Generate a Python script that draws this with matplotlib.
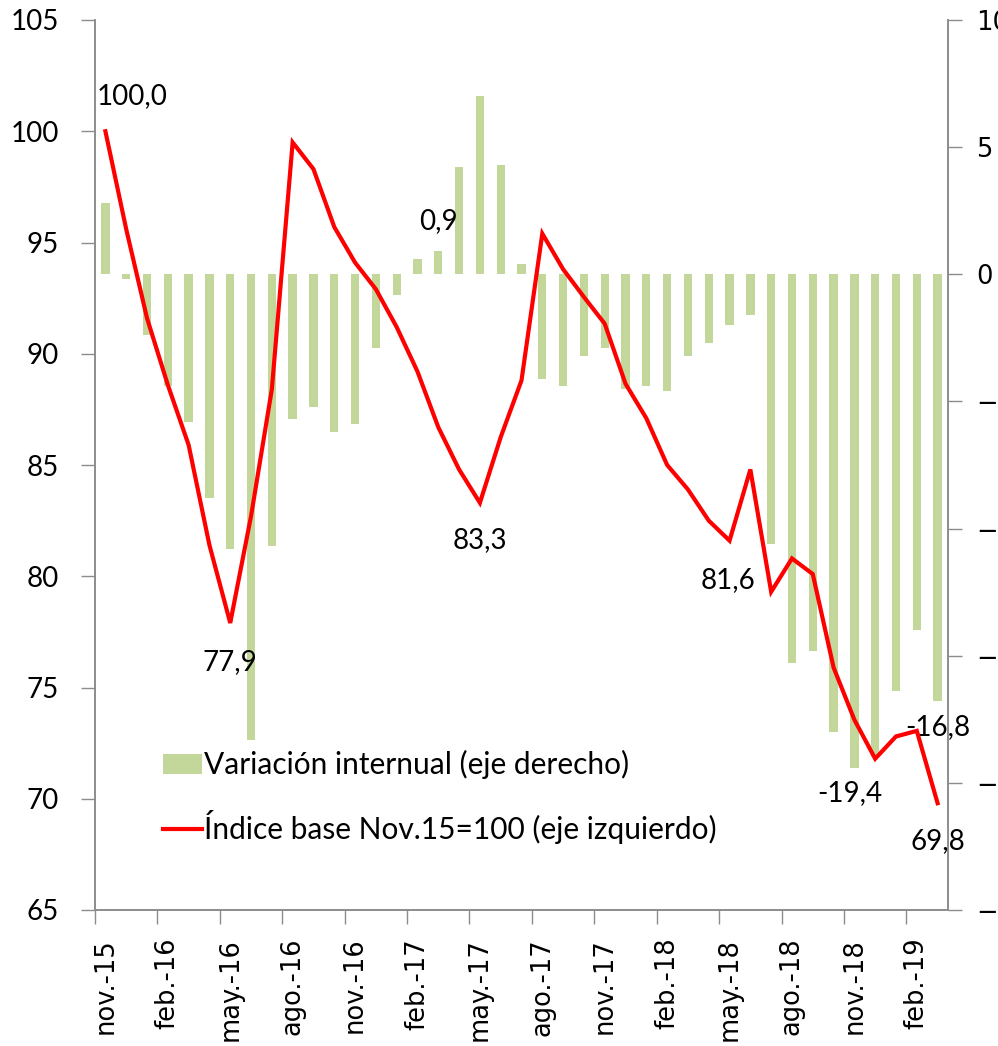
import matplotlib
matplotlib.use("Agg")
import matplotlib.pyplot as plt
from matplotlib.ticker import FixedLocator, NullFormatter

months = ["nov.-15", "dic.-15", "ene.-16", "feb.-16", "mar.-16", "abr.-16", "may.-16",
          "jun.-16", "jul.-16", "ago.-16", "sep.-16", "oct.-16", "nov.-16", "dic.-16",
          "ene.-17", "feb.-17", "mar.-17", "abr.-17", "may.-17", "jun.-17", "jul.-17",
          "ago.-17", "sep.-17", "oct.-17", "nov.-17", "dic.-17", "ene.-18", "feb.-18",
          "mar.-18", "abr.-18", "may.-18", "jun.-18", "jul.-18", "ago.-18", "sep.-18",
          "oct.-18", "nov.-18", "dic.-18", "ene.-19", "feb.-19", "mar.-19"]

variacion = [2.8, -0.2, -2.4, -4.4, -5.8, -8.8, -10.8, -18.3, -10.7, -5.7, -5.2, -6.2,
             -5.9, -2.9, -0.8, 0.6, 0.9, 4.2, 7.0, 4.3, 0.4, -4.1, -4.4, -3.2, -2.9,
             -4.5, -4.4, -4.6, -3.2, -2.7, -2.0, -1.6, -10.6, -15.3, -14.8, -18.0,
             -19.4, -19.0, -16.4, -14.0, -16.8]

indice = [100.0, 95.6, 91.6, 88.6, 85.9, 81.4, 77.9, 82.7, 88.4, 99.5, 98.3, 95.7,
          94.1, 92.9, 91.2, 89.2, 86.7, 84.8, 83.3, 86.25, 88.8, 95.4, 93.8, 92.55,
          91.35, 88.65, 87.1, 85.0, 83.9, 82.5, 81.6, 84.8, 79.3, 80.8, 80.1, 75.9,
          73.55, 71.8, 72.8, 73.05, 69.8]

left_ticks = [65, 70, 75, 80, 85, 90, 95, 100, 105]
right_ticks = [-25, -20, -15, -10, -5, 0, 5, 10]

# labelled points: (index, offset_x px, offset_y px)
line_labels = [(0, 27, 35), (6, 0, -39), (18, 0, -37), (30, -2, -39), (40, 0, -38)]
bar_labels = [(16, 0, 30), (36, -5, -25), (40, 0, -26)]

BAR_COLOR = "#C4D79B"
AXIS_COLOR = "#8C8C8C"
CAL = ["Lato", "DejaVu Sans"]
VER = ["DejaVu Sans"]

fig = plt.figure(figsize=(9.98, 10.46), dpi=100)
ax = fig.add_axes([95 / 998, 1 - 910 / 1046, (948 - 95) / 998, (910 - 20) / 1046])
ax2 = ax.twinx()
ax.set_zorder(ax2.get_zorder() + 1)
ax.patch.set_visible(False)

x = list(range(len(months)))
bars = ax2.bar(x, variacion, width=0.4, color=BAR_COLOR, zorder=2,
               label="Variación internual (eje derecho)")
line, = ax.plot(x, indice, color="#FF0000", lw=3.0, solid_joinstyle="miter",
                label="Índice base Nov.15=100 (eje izquierdo)", zorder=3)

ax.set_xlim(-0.5, len(months) - 0.5)
ax.set_ylim(65, 105)
ax2.set_ylim(-25, 10)
ax.set_yticks(left_ticks)
ax2.set_yticks(right_ticks)

# x ticks at category boundaries every 3 months; labels centred on categories
ax.xaxis.set_major_locator(FixedLocator([i - 0.5 for i in range(0, len(months), 3)]))
ax.xaxis.set_major_formatter(NullFormatter())
ax.xaxis.set_minor_locator(FixedLocator(list(range(0, len(months), 3))))
ax.set_xticklabels([months[i] for i in range(0, len(months), 3)], minor=True,
                   rotation=90, family=VER, fontsize=18.5)
ax.tick_params(axis="x", which="minor", length=0, pad=20)
ax.tick_params(axis="x", which="major", length=10, width=1, color=AXIS_COLOR, direction="out")

ax.tick_params(axis="y", length=10, width=1, color=AXIS_COLOR, pad=16, labelsize=20)
for t in ax.get_yticklabels():
    t.set_family(CAL)
ax2.tick_params(axis="y", length=10, width=1, color=AXIS_COLOR, pad=10, labelsize=18.5)
for t in ax2.get_yticklabels():
    t.set_family(VER)

for a in (ax, ax2):
    a.spines["top"].set_visible(False)
    for s in ("left", "right", "bottom"):
        a.spines[s].set_color(AXIS_COLOR)
        a.spines[s].set_linewidth(1.2)

def fmt(v):
    return f"{v:.1f}".replace(".", ",")

for i, dx, dy in line_labels:
    ax.annotate(fmt(indice[i]), (x[i], indice[i]), xytext=(dx * 0.72, dy * 0.72),
                textcoords="offset points", ha="center", va="center",
                fontsize=20, family=CAL, zorder=5)
for i, dx, dy in bar_labels:
    ax2.annotate(fmt(variacion[i]), (x[i], variacion[i]), xytext=(dx * 0.72, dy * 0.72),
                 textcoords="offset points", ha="center", va="center",
                 fontsize=20, family=CAL, zorder=5)

leg = ax.legend(handles=[bars, line], loc="upper left",
                bbox_to_anchor=(163 / 998, 1 - 750 / 1046), bbox_transform=fig.transFigure,
                frameon=False, prop={"family": CAL, "size": 21.5},
                handlelength=1.3, handleheight=0.65, handletextpad=0.08,
                labelspacing=1.05, borderaxespad=0, borderpad=0)

fig.savefig("out.png", dpi=100)
